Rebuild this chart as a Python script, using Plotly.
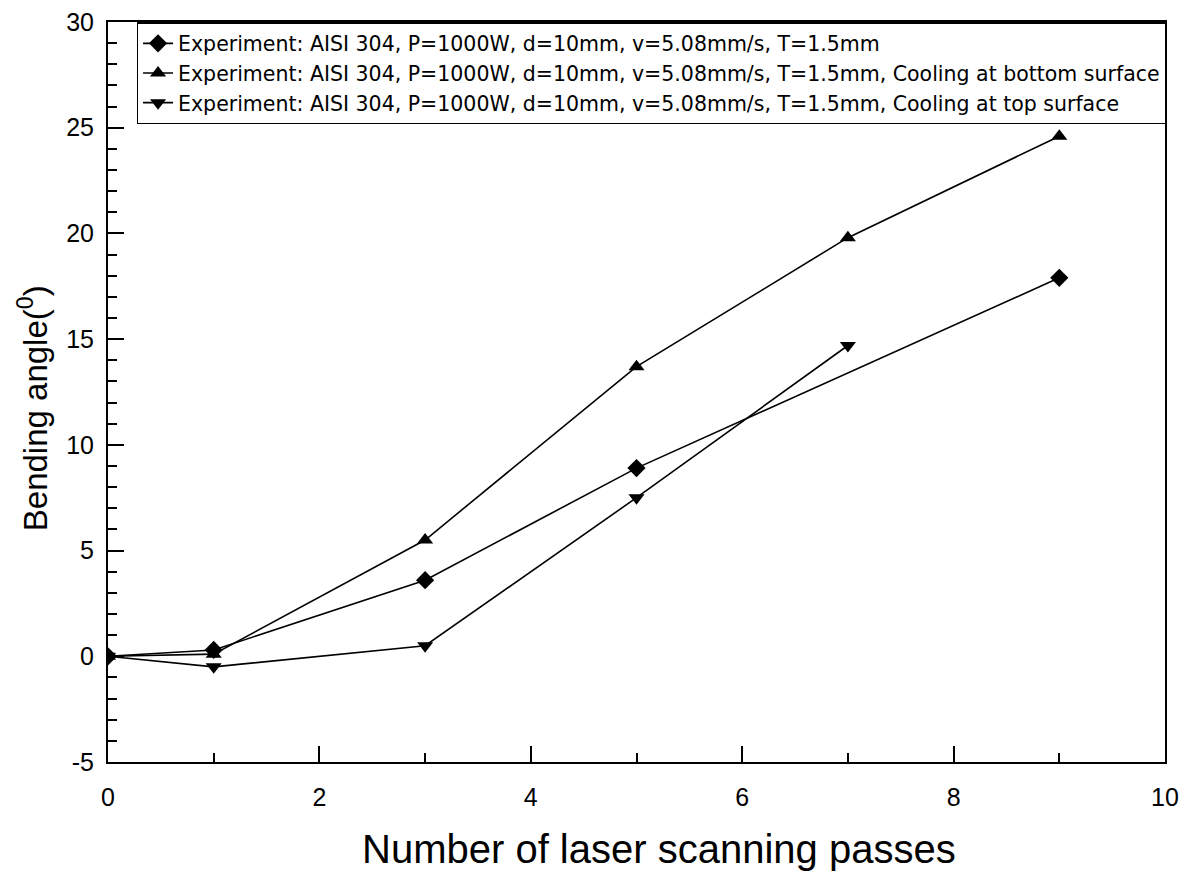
import plotly.graph_objects as go

x_diamond = [0, 1, 3, 5, 9]
y_diamond = [0, 0.3, 3.6, 8.9, 17.9]
x_up = [0, 1, 3, 5, 7, 9]
y_up = [0, 0.1, 5.5, 13.7, 19.8, 24.6]
x_down = [0, 1, 3, 5, 7]
y_down = [0, -0.5, 0.5, 7.5, 14.7]

names = [
    "Experiment: AISI 304, P=1000W, d=10mm, v=5.08mm/s, T=1.5mm",
    "Experiment: AISI 304, P=1000W, d=10mm, v=5.08mm/s, T=1.5mm, Cooling at bottom surface",
    "Experiment: AISI 304, P=1000W, d=10mm, v=5.08mm/s, T=1.5mm, Cooling at top surface",
]

x_major = [0, 2, 4, 6, 8, 10]
y_major = [-5, 0, 5, 10, 15, 20, 25, 30]
x_minor = list(range(0, 11))
y_minor = list(range(-5, 31))

x_title = "Number of laser scanning passes"
y_title = "Bending angle(<sup>0</sup>)"

FONT = "Liberation Sans, Arial"

fig = go.Figure()
for xs, ys, sym, nm in [(x_diamond, y_diamond, "diamond", names[0]),
                         (x_up, y_up, "triangle-up", names[1]),
                         (x_down, y_down, "triangle-down", names[2])]:
    fig.add_trace(go.Scatter(x=xs, y=ys, mode="lines+markers", name=nm,
                             line=dict(color="black", width=1.6),
                             marker=dict(symbol=sym, size=14, color="black")))

# invisible trace carrying the minor-tick overlay axes
fig.add_trace(go.Scatter(x=[0], y=[0], xaxis="x2", yaxis="y2", mode="markers",
                         marker=dict(opacity=0), showlegend=False, hoverinfo="skip"))

axis_common = dict(showline=True, linecolor="black", linewidth=2, mirror=True,
                   ticks="inside", tickcolor="black", tickwidth=2, ticklen=16,
                   showgrid=False, zeroline=False, automargin=False,
                   tickfont=dict(family=FONT, size=25, color="black"))

minor_common = dict(showticklabels=False, ticks="inside", ticklen=9, tickwidth=2,
                    tickcolor="black", showgrid=False, zeroline=False,
                    showline=False, automargin=False)

fig.update_layout(
    xaxis=dict(range=[0, 10], tickvals=x_major, ticklabelstandoff=12, **axis_common),
    yaxis=dict(range=[-5, 30], tickvals=y_major, ticktext=[str(v) for v in y_major],
               ticklabelstandoff=7, **axis_common),
    xaxis2=dict(range=[0, 10], overlaying="x", anchor="y", side="bottom",
                tickvals=x_minor, **minor_common),
    yaxis2=dict(range=[-5, 30], overlaying="y", anchor="x", side="left",
                tickvals=y_minor, **minor_common),
)

fig.add_annotation(text=x_title, xref="paper", yref="paper", x=0.521, y=-0.118,
                   xanchor="center", yanchor="middle", showarrow=False,
                   font=dict(family=FONT, size=40, color="black"))
fig.add_annotation(text=y_title, xref="paper", yref="paper", x=-0.071, y=0.478,
                   xanchor="center", yanchor="middle", showarrow=False, textangle=-90,
                   font=dict(family=FONT, size=33, color="black"))

fig.update_layout(
    width=1194, height=873,
    margin=dict(l=108, r=29, t=22, b=111),
    plot_bgcolor="white", paper_bgcolor="white",
    font=dict(family=FONT, color="black"),
    legend=dict(x=0.027, y=1.0, xanchor="left", yanchor="top",
                bgcolor="white", bordercolor="black", borderwidth=1.5,
                font=dict(family="DejaVu Sans", size=20.5, color="black"),
                tracegroupgap=0),
)

fig.write_html("out.html")
